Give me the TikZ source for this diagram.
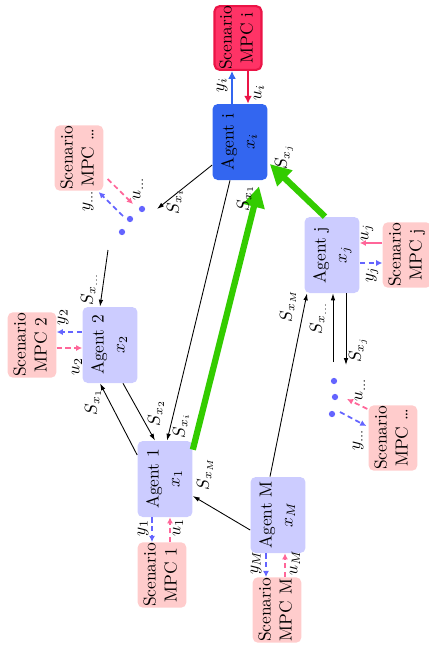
\documentclass[tikz,border=0pt]{standalone}
\usepackage{graphicx}
\usetikzlibrary{arrows.meta,calc}
\definecolor{lb}{RGB}{204,204,255}
\definecolor{pk}{RGB}{255,204,204}
\definecolor{abl}{RGB}{51,102,240}
\definecolor{mpr}{RGB}{255,51,102}
\definecolor{mprd}{RGB}{235,20,70}
\definecolor{dbl}{RGB}{100,100,255}
\definecolor{dpk}{RGB}{255,102,153}
\definecolor{grn}{RGB}{51,204,0}
\newcommand{\rtx}[1]{\rotatebox{90}{\begin{tabular}{@{}c@{}}#1\end{tabular}}}
\begin{document}
\begin{tikzpicture}[x=0.575pt,y=-0.575pt,
  agentbox/.style={fill=lb, rounded corners=3pt, inner sep=0pt, minimum width=31.6pt, minimum height=43.7pt},
  mpcbox/.style={fill=pk, rounded corners=3pt, inner sep=0pt, minimum width=28pt, minimum height=37.6pt},
  lbl/.style={rotate=90, inner sep=0.5pt},
  sig/.style={line width=0.5pt, -{Latex[length=4pt,width=2.6pt]}},
  yarr/.style={dbl, line width=1pt, dash pattern=on 3pt off 2pt, -{Latex[length=3.5pt,width=3.5pt]}},
  uarr/.style={dpk, line width=1pt, dash pattern=on 3pt off 2pt, -{Latex[length=3.5pt,width=3.5pt]}},
  garr/.style={grn, line width=3.6pt, -{Triangle[length=12pt,width=12pt]}},
  dotn/.style={circle, fill=dbl, inner sep=0pt, minimum size=3.6pt}]
\useasboundingbox (0,0) rectangle (428,646);

% nodes
\node[fill=mpr, draw=mprd, line width=1.2pt, rounded corners=3pt, inner sep=0pt, minimum width=27pt, minimum height=36.5pt] (mpci) at (238,38) {\rtx{Scenario\\MPC i}};
\node[agentbox, fill=abl] (agi) at (240,142) {\rtx{Agent i\\$x_i$}};
\node[mpcbox] (mpcd1) at (79,158) {\rtx{Scenario\\MPC \dots}};
\node[agentbox] (ag2) at (110,345) {\rtx{Agent 2\\$x_2$}};
\node[mpcbox] (mpc2) at (32,345) {\rtx{Scenario\\MPC 2}};
\node[agentbox] (ag1) at (165,479) {\rtx{Agent 1\\$x_1$}};
\node[mpcbox] (mpc1) at (162,575) {\rtx{Scenario\\MPC 1}};
\node[agentbox] (agM) at (278,515) {\rtx{Agent M\\$x_M$}};
\node[mpcbox] (mpcM) at (277,610) {\rtx{Scenario\\MPC M}};
\node[agentbox] (agj) at (332,255) {\rtx{Agent j\\$x_j$}};
\node[mpcbox] (mpcj) at (407,255) {\rtx{Scenario\\MPC j}};
\node[mpcbox] (mpcd2) at (393,438) {\rtx{Scenario\\MPC \dots}};

% dots
\node[dotn] (d1a) at (142,209) {};
\node[dotn] (d1b) at (130,219) {};
\node[dotn] (d1c) at (122,232) {};
\node[dotn] (d2a) at (334,381) {};
\node[dotn] (d2b) at (335,397) {};
\node[dotn] (d2c) at (332,414) {};

% free ends
\coordinate (c1) at (157,209);
\coordinate (c2) at (108,250);
\coordinate (c3) at (346,365);
\coordinate (c4) at (333,362);
\coordinate (p1) at (133,204);
\coordinate (b1) at (123,216);
\coordinate (p2) at (347,399);
\coordinate (b2) at (340,412);

% agent i <-> MPC i
\draw[abl, line width=1.3pt, -{Latex[length=4.5pt,width=4.5pt]}] ($(agi.north)+(-8,0)$) -- ($(mpci.south)+(-6,0)$);
\draw[mprd, line width=1.3pt, -{Latex[length=4.5pt,width=4.5pt]}] ($(mpci.south)+(10,0)$) -- ($(agi.north)+(8,0)$);
\node[lbl] at (222,85) {$y_i$};
\node[lbl] at (259,93) {$u_i$};

% agent 1
\draw[yarr] ($(ag1.south)+(-13,0)$) -- ($(mpc1.north)+(-10,0)$);
\draw[uarr] ($(mpc1.north)+(8,0)$) -- ($(ag1.south)+(5,0)$);
\node[lbl] at (143,528) {$y_1$};
\node[lbl] at (178,528) {$u_1$};
% agent M
\draw[yarr] ($(agM.south)+(-12,0)$) -- ($(mpcM.north)+(-11,0)$);
\draw[uarr] ($(mpcM.north)+(8,0)$) -- ($(agM.south)+(7,0)$);
\node[lbl] at (256,563) {$y_M$};
\node[lbl] at (295,563) {$u_M$};
% agent 2
\draw[yarr] ($(ag2.west)+(0,-13)$) -- ($(mpc2.east)+(0,-13)$);
\draw[uarr] ($(mpc2.east)+(0,3)$) -- ($(ag2.west)+(0,3)$);
\node[lbl] at (63,317) {$y_2$};
\node[lbl] at (77,367) {$u_2$};
% agent j
\draw[dpk, line width=1pt, -{Latex[length=3.5pt,width=3.5pt]}] ($(mpcj.west)+(0,-12)$) -- ($(agj.east)+(0,-12)$);
\draw[yarr] ($(agj.east)+(0,8)$) -- ($(mpcj.west)+(0,8)$);
\node[lbl] at (367,233) {$u_j$};
\node[lbl] at (372,275) {$y_j$};
% dots groups
\draw[uarr] ($(mpcd1.south east)+(4,-12)$) -- (p1);
\draw[yarr] (b1) -- ($(mpcd1.south east)+(-5,1)$);
\node[lbl] at (138,189) {$u_{\dots}$};
\node[lbl] at (88,201) {$y_{\dots}$};
\draw[uarr] ($(mpcd2.north west)+(-1,4)$) -- (p2);
\draw[yarr] (b2) -- ($(mpcd2.west)+(-2,-12)$);
\node[lbl] at (360,390) {$u_{\dots}$};
\node[lbl] at (358,440) {$y_{\dots}$};

% signal connectors
\draw[sig] ($(agi.west)+(0,23)$) -- (c1);
\node[lbl] at (175,202) {$S_{x_i}$};
\draw[sig] (c2) -- ($(ag2.north)+(-10,0)$);
\node[lbl] at (89,289) {$S_{x_{\dots}}$};
\draw[sig] ($(ag2.south)+(13,0)$) -- ($(ag1.north)+(-10,0)$);
\node[lbl] at (156,413) {$S_{x_2}$};
\draw[sig] ($(ag1.west)+(0,-24)$) -- ($(ag2.south)+(-10,0)$);
\node[lbl] at (93,402) {$S_{x_1}$};
\draw[sig] ($(agi.south)+(-10,0)$) -- ($(ag1.north)+(2,0)$);
\node[lbl] at (181,426) {$S_{x_i}$};
\draw[sig] ($(agM.west)+(0,15)$) -- ($(ag1.east)+(0,17)$);
\node[lbl] at (205,474) {$S_{x_M}$};
\draw[sig] ($(agM.north)+(-8,0)$) -- ($(agj.south)+(-25,0)$);
\node[lbl] at (288,306) {$S_{x_M}$};
\draw[sig] ($(agj.south)+(14,0)$) -- (c3);
\node[lbl] at (358,350) {$S_{x_j}$};
\draw[sig] (c4) -- ($(agj.south)+(1,0)$);
\node[lbl] at (318,318) {$S_{x_{\dots}}$};

% green
\draw[garr] ($(ag1.north east)+(0,9)$) -- ($(agi.south)+(19,6)$);
\node[lbl] at (245,198) {$S_{x_1}$};
\draw[garr] ($(agj.north)+(-7,0)$) -- ($(agi.east)+(2,22)$);
\node[lbl] at (284,157) {$S_{x_j}$};
\end{tikzpicture}
\end{document}
